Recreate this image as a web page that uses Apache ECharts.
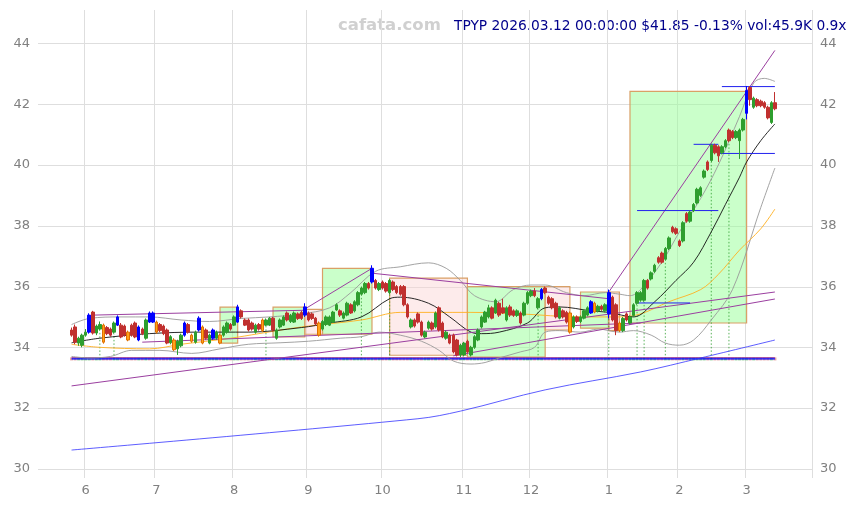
<!DOCTYPE html>
<html><head><meta charset="utf-8">
<script src="https://cdn.jsdelivr.net/npm/echarts@6/dist/echarts.min.js"></script>
<style>html,body{margin:0;padding:0;background:#fff}#c{width:857px;height:505px}</style>
</head><body><div id="c"></div>
<script>
// ---------------- data ----------------
const firstDay = '2025-05-27', lastDay = '2026-03-12';
const holidays = ['2025-06-19','2025-07-04','2025-09-01','2025-11-27','2025-12-25','2026-01-01','2026-01-19','2026-02-16'];
const yTicks = [30,32,34,36,38,40,42,44];
const titleText = 'TPYP 2026.03.12 00:00:00 $41.85 -0.13% vol:45.9K 0.9x';
const brandText = 'cafata.com';

// candle kind: r=down, g=up, b=blue (volume spike), o=orange marker
const kinds = 'rrgggbrggo'+'rrgbrrorrb'+'rgbborrrgo'+'ggbrogborg'+'bgoggrgbrr'+'rrgroggrgg'+'grggrrbrrr'+'ogggggrggr'+'ggggrbrgrr'+'grrrrrgrrr'+
'ggrgrrgrrr'+'ggrggggggr'+'grrgrrgrgg'+'grgbrrrrgr'+'rogrgggbog'+'rgbrrogrgg'+'gggrggrrgg'+'rrrgrggggg'+'rgrrggrrgg'+'gbrgrrrrgr';
const opens = [34.57,34.67,34.14,34.07,34.40,34.50,35.16,34.47,34.60,34.73,34.65,34.60,34.50,34.73,34.73,34.70,34.50,34.73,34.80,34.24,
34.60,34.30,35.13,34.83,34.83,34.75,34.70,34.57,34.15,34.24,33.95,34.05,34.40,34.75,34.40,34.17,34.57,34.67,34.57,34.14,
34.30,34.30,34.40,34.40,34.50,34.75,34.73,34.83,35.20,34.90,34.90,34.80,34.50,34.75,34.90,34.73,34.73,34.96,34.30,34.67,
34.73,35.13,34.85,34.83,35.10,35.15,35.06,35.13,35.10,34.96,34.80,34.60,34.75,34.73,34.83,35.23,35.20,34.96,35.06,35.40,
35.20,35.40,35.75,35.80,36.10,36.15,36.20,35.90,36.15,36.10,35.80,36.15,36.00,36.00,36.00,35.40,34.67,34.90,35.10,34.83,
34.34,34.63,34.80,34.67,35.30,34.80,34.30,34.40,34.40,34.24,33.75,33.75,34.20,33.75,34.00,34.24,34.67,34.83,35.00,35.30,
35.13,35.45,35.30,34.90,35.33,35.20,35.05,35.13,35.06,35.45,35.70,35.85,35.30,35.60,35.95,35.65,35.60,35.45,34.96,35.20,
35.15,35.13,34.67,35.00,34.85,34.96,35.06,35.13,35.16,35.20,35.35,35.20,35.10,35.65,35.40,34.55,34.55,35.10,34.80,35.05,
35.45,35.55,35.55,36.20,36.25,36.50,36.95,37.10,36.90,37.25,37.95,37.90,37.50,37.50,38.40,38.15,38.50,38.75,39.00,39.60,
40.10,40.15,40.65,40.60,40.40,40.60,41.15,41.10,40.90,40.80,41.15,41.70,42.55,41.90,42.15,42.10,42.05,41.90,41.40,42.05];
const closes = [34.40,34.17,34.30,34.40,34.50,35.06,34.47,34.70,34.75,34.17,34.45,34.40,34.80,35.00,34.34,34.40,34.24,34.40,34.34,34.67,
34.45,34.90,34.83,35.13,34.50,34.55,34.45,34.14,34.35,33.92,34.20,34.40,34.80,34.50,34.20,34.50,34.96,34.14,34.30,34.40,
34.57,34.50,34.14,34.67,34.80,34.60,35.00,35.33,35.00,34.73,34.57,34.60,34.73,34.60,34.55,34.90,34.96,34.57,34.57,34.90,
35.00,34.90,35.05,35.13,34.95,34.95,35.33,34.90,34.95,34.77,34.40,34.85,35.00,35.00,35.16,35.40,35.06,35.13,35.45,35.13,
35.50,35.80,35.95,36.10,35.95,36.60,35.95,36.10,35.95,35.85,36.20,35.90,35.80,35.75,35.40,35.00,34.90,34.70,34.83,34.40,
34.50,34.83,34.60,35.13,34.57,34.34,34.50,34.14,33.85,33.75,34.07,34.14,33.85,34.00,34.35,34.57,35.00,35.16,35.30,34.96,
35.55,35.06,35.13,35.30,35.06,35.05,35.20,34.80,35.45,35.80,35.85,35.70,35.60,35.90,35.80,35.45,35.30,35.00,35.30,35.00,
34.83,34.50,35.00,34.85,35.00,35.20,35.30,35.50,35.45,35.35,35.25,35.40,35.80,34.90,34.55,34.80,34.95,34.90,35.00,35.40,
35.80,35.80,36.20,35.95,36.45,36.70,36.80,36.80,37.25,37.60,37.80,37.75,37.35,38.10,38.15,38.45,38.70,39.20,39.25,39.80,
39.85,40.65,40.40,40.30,40.60,40.80,40.80,40.90,41.10,41.15,41.50,42.45,42.15,42.20,41.95,41.95,41.90,41.55,42.05,41.85];
const lows = [34.35,34.10,34.05,34.00,34.35,34.45,34.42,34.40,34.55,34.12,34.40,34.35,34.45,34.70,34.30,34.35,34.20,34.35,34.30,34.20,
34.40,34.25,34.80,34.80,34.45,34.50,34.40,34.10,34.10,33.88,33.75,34.00,34.35,34.45,34.15,34.12,34.52,34.10,34.25,34.10,
34.25,34.25,34.10,34.35,34.45,34.55,34.70,34.80,34.95,34.70,34.52,34.55,34.45,34.55,34.50,34.70,34.70,34.52,34.25,34.62,
34.70,34.85,34.80,34.80,34.90,34.90,35.00,34.85,34.90,34.72,34.35,34.55,34.70,34.70,34.80,35.20,35.00,34.92,35.02,35.10,
35.15,35.35,35.70,35.75,35.90,36.10,35.90,35.85,35.90,35.80,35.75,35.85,35.75,35.70,35.35,34.95,34.62,34.65,34.78,34.35,
34.30,34.58,34.55,34.62,34.52,34.30,34.25,34.10,33.80,33.70,33.68,33.70,33.80,33.70,33.95,34.20,34.62,34.80,34.95,34.92,
35.10,35.00,35.10,34.85,35.00,35.00,35.00,34.75,35.02,35.40,35.65,35.65,35.25,35.55,35.75,35.40,35.25,34.95,34.92,34.95,
34.78,34.45,34.62,34.80,34.80,34.92,35.02,35.10,35.12,35.15,35.20,35.15,34.95,34.85,34.40,34.50,34.50,34.85,34.75,35.00,
35.40,35.50,35.50,35.90,36.20,36.45,36.75,36.75,36.85,37.20,37.75,37.70,37.30,37.45,38.10,38.10,38.45,38.70,38.95,39.55,
39.80,40.10,40.35,40.10,40.35,40.55,40.75,40.85,40.85,40.20,41.10,41.50,41.95,41.85,41.90,41.90,41.85,41.50,41.35,41.80];
const highs = [34.65,34.75,34.35,34.45,34.60,35.12,35.20,34.75,34.85,34.78,34.70,34.65,34.85,35.05,34.80,34.75,34.55,34.78,34.85,34.72,
34.65,34.95,35.18,35.18,34.88,34.80,34.75,34.62,34.40,34.30,34.25,34.45,34.85,34.80,34.45,34.55,35.02,34.72,34.62,34.45,
34.62,34.55,34.45,34.72,34.85,34.80,35.05,35.40,35.25,34.95,34.95,34.85,34.78,34.80,34.95,34.95,35.00,35.00,34.62,34.95,
35.05,35.18,35.10,35.18,35.15,35.20,35.45,35.18,35.15,35.00,34.85,34.90,35.05,35.05,35.20,35.45,35.25,35.18,35.50,35.45,
35.55,35.85,36.00,36.15,36.15,36.70,36.25,36.15,36.20,36.15,36.25,36.20,36.05,36.05,36.05,35.45,34.95,34.95,35.15,34.88,
34.55,34.88,34.85,35.18,35.35,34.85,34.55,34.45,34.45,34.28,34.12,34.18,34.25,34.05,34.40,34.62,35.05,35.20,35.40,35.35,
35.60,35.50,35.60,35.35,35.40,35.25,35.25,35.18,35.50,35.85,35.90,35.95,35.65,35.95,36.00,35.70,35.65,35.50,35.35,35.25,
35.20,35.18,35.05,35.05,35.05,35.25,35.35,35.55,35.50,35.40,35.40,35.45,35.90,35.70,35.45,34.85,35.00,35.15,35.05,35.45,
35.85,35.85,36.25,36.25,36.50,36.75,37.00,37.15,37.30,37.65,38.00,37.95,37.55,38.15,38.45,38.50,38.75,39.25,39.30,39.85,
40.15,40.70,40.70,40.65,40.65,40.85,41.20,41.15,41.15,41.20,41.55,42.60,42.60,42.25,42.20,42.15,42.10,41.95,42.10,42.40];

// indicator lines: candle index -> price
const maFastIdx = [0,8,22,36,50,65,73,82,90,93,101,107,113,116,121,129,134,138,147,152,159,165,171,176,181,185,189,191,195,199];
const maFastVal = [34.15,34.3,34.45,34.5,34.5,34.65,34.8,35.0,35.6,35.65,35.45,35.0,34.5,34.45,34.5,34.8,35.3,35.33,35.2,35.15,35.0,35.5,36.2,36.8,37.8,38.7,39.6,40.1,40.8,41.35];
const maSlowIdx = [0,8,22,31,45,53,65,82,93,113,127,144,155,161,169,178,183,189,195,199];
const maSlowVal = [34.1,34.0,33.95,34.1,34.3,34.45,34.67,34.9,35.15,35.15,35.1,35.0,35.0,35.1,35.5,35.9,36.4,37.2,37.9,38.55];
const bbUpIdx = [0,5,14,22,31,39,48,56,65,73,79,86,93,101,106,110,114,120,125,130,134,140,145,151,155,158,161,167,172,178,183,189,193,196,199];
const bbUpVal = [34.75,34.95,35.0,35.0,34.9,34.85,34.95,35.0,35.1,35.3,35.8,36.5,36.65,36.78,36.6,36.2,35.7,35.5,35.9,36.05,36.05,35.8,35.7,35.8,35.75,35.7,35.9,36.8,37.8,38.9,40.0,41.6,42.7,42.85,42.75];
const bbLowIdx = [0,5,11,17,25,34,42,50,59,67,76,82,87,93,99,104,108,113,117,121,127,131,134,138,144,149,155,159,164,168,172,176,181,187,195,199];
const bbLowVal = [33.7,33.65,33.7,33.9,33.9,33.8,33.95,34.1,34.15,34.2,34.3,34.35,34.5,34.4,34.2,33.9,33.55,33.45,33.5,33.65,33.85,34.0,34.5,34.55,34.5,34.6,34.5,34.55,34.4,34.14,34.07,34.24,34.9,35.9,38.6,39.9];
const maLongIdx = [0,98,110,134,161,178,199];
const maLongVal = [30.62,31.65,31.9,32.6,33.19,33.65,34.24];

// trend lines: [startIdx, startPrice, endIdx, endPrice]
const trendLines = [[0,32.73,199,35.82],[6,35.06,66,35.22],[66,35.26,85,36.6],[85,36.44,152,35.6],[20,34.17,161,34.8],[108,33.72,199,35.59],[152,35.82,199,43.77]];
// support/resistance segments: [startIdx, endIdx, price]
const levelSegs = [[159.8,174.7,35.46],[159.8,182.9,38.5],[175.8,182.6,40.68],[182.9,199,40.38],[183.8,199,42.58]];
const baseBlue = 33.62, basePurple = 33.66;
// signal days (dotted verticals)
const signalIdx = [8,12,55,82,90,111,132,152,160,162,168,181,186];
// consolidation boxes: [startIdx, endIdx, low, high, up(1)/down(0)]
const boxes = [[42.3,47.1,34.14,35.32,1],[57.0,66.3,34.34,35.32,1],[66.3,71.1,34.43,35.25,0],[71.1,85.0,34.43,36.6,1],
[90.1,111.9,33.74,36.28,0],[111.9,133.9,33.68,36.0,1],[133.9,141.0,34.57,36.0,0],[143.8,152.3,34.63,35.82,1],
[152.3,155.2,34.55,35.82,0],[157.7,190.5,34.8,42.42,1]];

// ---------------- build ----------------
const PAD_L = 9, PAD_R = 10;
const hol = new Set(holidays);
const dates = [];
{
  let d = new Date(firstDay + 'T00:00:00Z');
  const end = new Date(lastDay + 'T00:00:00Z');
  while (d <= end) {
    const wd = d.getUTCDay();
    const s = d.toISOString().slice(0,10);
    if (wd !== 0 && wd !== 6 && !hol.has(s)) dates.push(s);
    d = new Date(d.getTime() + 86400000);
  }
}
const N = dates.length;
const cats = [];
for (let k = 0; k < PAD_L; k++) cats.push('L' + k);
dates.forEach(s => cats.push(s));
for (let k = 0; k < PAD_R; k++) cats.push('R' + k);
const monthStart = {};
for (let i = 1; i < N; i++) {
  if (dates[i].slice(5,7) !== dates[i-1].slice(5,7)) monthStart[dates[i]] = String(parseInt(dates[i].slice(5,7), 10));
}
const X = i => i + PAD_L;

const GREEN = '#2e9e2e', RED = '#c0302f', BLUE = '#0000ff', ORANGE = '#ffa31a', ORANGE_B = '#e07000';
const candleData = cats.map(() => '-');
for (let i = 0; i < N; i++) {
  const item = { value: [opens[i], closes[i], lows[i], highs[i]] };
  const k = kinds[i];
  if (k === 'b') item.itemStyle = { color: BLUE, color0: BLUE, borderColor: BLUE, borderColor0: BLUE };
  if (k === 'o') item.itemStyle = { color: ORANGE, color0: ORANGE, borderColor: ORANGE_B, borderColor0: ORANGE_B };
  candleData[X(i)] = item;
}
function sparse(idx, val) {
  const a = cats.map(() => null);
  idx.forEach((ix, j) => { a[X(ix)] = val[j]; });
  return a;
}
function lineSeries(idx, val, color, width) {
  return { type: 'line', data: sparse(idx, val), connectNulls: true, smooth: 0.35, showSymbol: false, silent: true,
    lineStyle: { color: color, width: width }, z: 3 };
}
function segRender(color, width, dash) {
  return function (params, api) {
    const p0 = api.coord([api.value(0), api.value(1)]);
    const p1 = api.coord([api.value(2), api.value(3)]);
    return { type: 'line', shape: { x1: p0[0], y1: p0[1], x2: p1[0], y2: p1[1] },
      style: { stroke: color, lineWidth: width, lineDash: dash || null } };
  };
}
function segSeries(data, color, width, dash, z) {
  return { type: 'custom', renderItem: segRender(color, width, dash), data: data, silent: true, z: z || 4,
    encode: { x: [0, 2], y: [1, 3] } };
}
const trendData = trendLines.map(t => [X(t[0]), t[1], X(t[2]), t[3]]);
const levelData = levelSegs.map(s => [X(s[0]), s[2], X(s[1]), s[2]]);
const signalData = signalIdx.map(i => [X(i), baseBlue, X(i), lows[i]]);
const baseBlueData = [[X(0), baseBlue, X(N - 1), baseBlue]];
const basePurpleData = [[X(0), basePurple, X(N - 1), basePurple]];
const boxData = boxes.map(b => [X(b[0]), b[2], X(b[1]), b[3], b[4]]);
const dotData = [];
for (let i = 0; i < N; i++) dotData.push([X(i), baseBlue, closes[i] >= opens[i] ? 1 : 0]);
const gridData = yTicks.map(v => [X(0), v]);

const option = {
  animation: false,
  backgroundColor: '#ffffff',
  grid: { left: 38, right: 45, top: 10, bottom: 27 },
  textStyle: { fontFamily: 'DejaVu Sans' },
  xAxis: {
    type: 'category', data: cats, boundaryGap: true,
    axisLine: { show: false }, axisTick: { show: false },
    axisLabel: { interval: (i, v) => monthStart[v] !== undefined, formatter: v => monthStart[v] || '',
      color: '#808080', fontSize: 13, margin: 6, fontFamily: 'DejaVu Sans' },
    splitLine: { show: true, interval: (i, v) => monthStart[v] !== undefined, lineStyle: { color: '#dedede', width: 1 } }
  },
  yAxis: [
    { type: 'value', min: 29.7, max: 45.1, splitNumber: 8, position: 'left',
      axisLine: { show: false }, axisTick: { show: false },
      axisLabel: { color: '#808080', fontSize: 13, margin: 8, showMinLabel: false, showMaxLabel: false, fontFamily: 'DejaVu Sans' },
      splitLine: { show: false } },
    { type: 'value', min: 29.7, max: 45.1, splitNumber: 8, position: 'right',
      axisLine: { show: false }, axisTick: { show: false },
      axisLabel: { color: '#808080', fontSize: 13, margin: 8, showMinLabel: false, showMaxLabel: false, fontFamily: 'DejaVu Sans' },
      splitLine: { show: false } }
  ],
  graphic: [
    { type: 'text', left: 338, top: 17, style: { text: brandText, fill: '#d0d0d0', font: 'bold 16.5px "DejaVu Sans"' } },
    { type: 'text', left: 454, top: 19, style: { text: titleText, fill: '#00008b', font: '13.8px "DejaVu Sans"' } }
  ],
  series: [
    { type: 'custom', data: gridData, silent: true, z: 0, encode: { x: 0, y: 1 }, clip: false,
      renderItem: function (params, api) {
        const p = api.coord([api.value(0), api.value(1)]);
        const cs = params.coordSys;
        const y = Math.round(p[1]) + 0.5;
        return { type: 'line', shape: { x1: cs.x, y1: y, x2: cs.x + cs.width, y2: y },
          style: { stroke: '#dedede', lineWidth: 1 } };
      } },
    { type: 'custom', data: boxData, silent: true, z: 1, encode: { x: [0, 2], y: [1, 3] },
      renderItem: function (params, api) {
        const p0 = api.coord([api.value(0), api.value(3)]);
        const p1 = api.coord([api.value(2), api.value(1)]);
        const up = api.value(4) === 1;
        return { type: 'rect', shape: { x: p0[0], y: p0[1], width: p1[0] - p0[0], height: p1[1] - p0[1] },
          style: { fill: up ? 'rgba(150,255,150,0.5)' : 'rgba(250,210,210,0.45)', stroke: '#d9a066', lineWidth: 1.2 } };
      } },
    { type: 'custom', data: dotData, silent: true, z: 2, encode: { x: 0, y: 1 },
      renderItem: function (params, api) {
        const p = api.coord([api.value(0), api.value(1)]);
        return { type: 'rect', shape: { x: p[0] - 1.5, y: p[1] - 1.5, width: 3, height: 3 },
          style: { fill: api.value(2) === 1 ? 'rgba(46,158,46,0.55)' : 'rgba(192,48,47,0.45)' } };
      } },
    segSeries(basePurpleData, '#9b3fa0', 1, null, 3),
    segSeries(baseBlueData, '#0000ff', 1.2, null, 3),
    segSeries(signalData, '#2e9e2e', 0.8, [1.5, 2], 2),
    lineSeries(maLongIdx, maLongVal, '#3333ff', 0.8),
    lineSeries(bbUpIdx, bbUpVal, '#999999', 0.9),
    lineSeries(bbLowIdx, bbLowVal, '#999999', 0.9),
    lineSeries(maSlowIdx, maSlowVal, '#ffb020', 0.9),
    lineSeries(maFastIdx, maFastVal, '#111111', 0.9),
    segSeries(trendData, '#9b3fa0', 1, null, 4),
    segSeries(levelData, '#2020ee', 1, null, 4),
    { type: 'candlestick', data: candleData, barWidth: 3, z: 5,
      itemStyle: { color: GREEN, color0: RED, borderColor: GREEN, borderColor0: RED, borderWidth: 1 } }
  ]
};
const chart = echarts.init(document.getElementById('c'), null, { renderer: 'canvas' });
chart.setOption(option);
</script>
</body></html>
